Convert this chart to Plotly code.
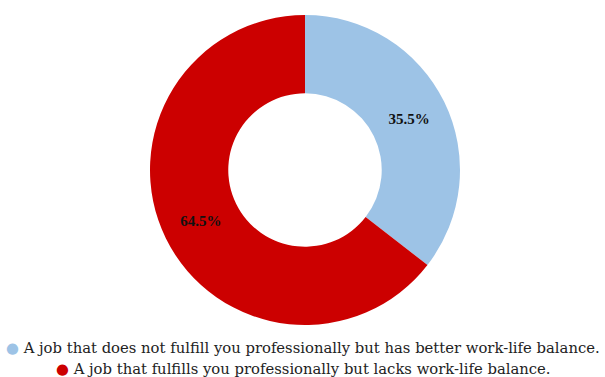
import plotly.graph_objects as go

# Survey answers and their shares (%)
labels = [
    "A job that does not fulfill you professionally but has better work-life balance.",
    "A job that fulfills you professionally but lacks work-life balance.",
]
values = [35.5, 64.5]
colors = ["#9DC3E6", "#CC0000"]

W, H = 605, 377

fig = go.Figure(
    go.Pie(
        labels=labels,
        values=values,
        hole=0.495,
        sort=False,
        direction="clockwise",
        rotation=0,
        marker=dict(colors=colors, line=dict(width=0)),
        texttemplate="%{value:.1f}%",
        textposition="inside",
        insidetextorientation="horizontal",
        textfont=dict(family="Liberation Serif", size=15, color="#111111", weight="bold"),
        showlegend=False,
        hoverinfo="label+percent",
        domain=dict(x=[150 / W, 460 / W], y=[1 - 325 / H, 1 - 15 / H]),
    )
)

# Legend drawn as two centred rows beneath the ring
legend_rows = [(4, 347), (54, 368)]
for (x0, y0), lab, col in zip(legend_rows, labels, colors):
    fig.add_annotation(
        x=x0 / W, y=1 - y0 / H, xref="paper", yref="paper",
        xanchor="left", yanchor="middle", showarrow=False,
        text=f"<span style='color:{col}'>●</span> {lab}",
        font=dict(family="DejaVu Serif", size=14.8, color="#222222"),
    )

fig.update_layout(
    width=W, height=H,
    margin=dict(l=0, r=0, t=0, b=0),
    paper_bgcolor="white",
    plot_bgcolor="white",
)

fig.write_html("out.html")
